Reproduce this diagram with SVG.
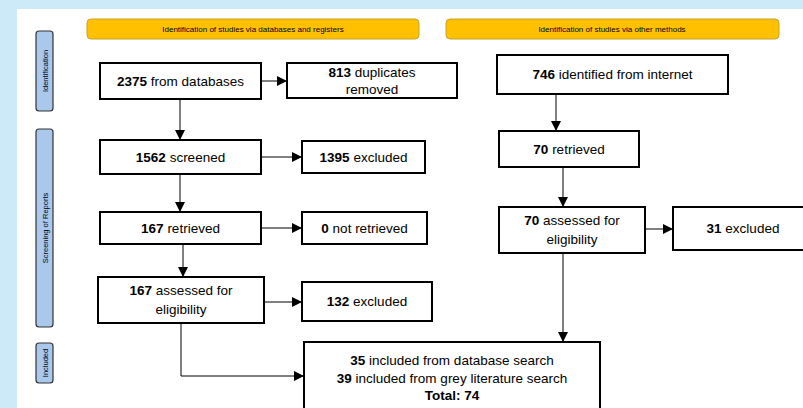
<svg xmlns="http://www.w3.org/2000/svg" width="803" height="408" viewBox="0 0 803 408">
<style>
.bg{fill:#cdeaf8}
.hdr{fill:#ffc000;stroke:#c9a227;stroke-width:1}
.hdrt{font-family:"Liberation Sans",Arial,sans-serif;font-size:8px;fill:#000;text-anchor:middle}
.side{fill:#a9c8ec;stroke:#333;stroke-width:1.2}
.sidet{font-family:"Liberation Sans",Arial,sans-serif;font-size:7.5px;fill:#000;text-anchor:middle}
.box{fill:#fff;stroke:#000;stroke-width:2}
.t{font-family:"Liberation Sans",Arial,sans-serif;font-size:13.5px;fill:#000;text-anchor:middle}
.b{font-weight:bold}
.con{fill:none;stroke:#000;stroke-width:1}
</style>
<defs>
<marker id="ah" viewBox="0 0 10 10" refX="10" refY="5" markerWidth="10" markerHeight="10" markerUnits="userSpaceOnUse" orient="auto">
<path d="M0,0 L10,5 L0,10 z" fill="#000"/>
</marker>
</defs>
<rect class="bg" x="0" y="0" width="803" height="408"/>
<rect x="17" y="9" width="786" height="399" fill="#fff"/>

<g id="hdr-db"><rect class="hdr" x="87" y="19" width="332" height="20" rx="4"/><text class="hdrt" x="253" y="32">Identification of studies via databases and registers</text></g>
<g id="hdr-other"><rect class="hdr" x="446" y="19" width="333" height="20" rx="4"/><text class="hdrt" x="612" y="32">Identification of studies via other methods</text></g>

<g id="side-ident"><rect class="side" x="36" y="31" width="17" height="80" rx="3"/><text class="sidet" transform="translate(47.5,71) rotate(-90)">Identification</text></g>
<g id="side-screen"><rect class="side" x="36" y="129" width="17" height="198" rx="3"/><text class="sidet" transform="translate(47.5,228) rotate(-90)">Screening of Reports</text></g>
<g id="side-incl"><rect class="side" x="36" y="343" width="17" height="40" rx="3"/><text class="sidet" transform="translate(47.5,363) rotate(-90)">Included</text></g>

<g id="n-db"><rect class="box" x="100" y="63" width="161" height="36"/><text class="t" x="180.5" y="86"><tspan class="b">2375</tspan> from databases</text></g>
<g id="n-dup"><rect class="box" x="287" y="63" width="170" height="35"/><text class="t" x="372" y="77"><tspan class="b">813</tspan> duplicates</text><text class="t" x="372" y="94">removed</text></g>
<g id="n-screened"><rect class="box" x="100" y="140" width="161" height="34"/><text class="t" x="180.5" y="162"><tspan class="b">1562</tspan> screened</text></g>
<g id="n-excl1"><rect class="box" x="302" y="141" width="123" height="32"/><text class="t" x="363.5" y="162"><tspan class="b">1395</tspan> excluded</text></g>
<g id="n-retr"><rect class="box" x="100" y="212" width="161" height="32"/><text class="t" x="180.5" y="233"><tspan class="b">167</tspan> retrieved</text></g>
<g id="n-notretr"><rect class="box" x="302" y="212" width="125" height="32"/><text class="t" x="364.5" y="233"><tspan class="b">0</tspan> not retrieved</text></g>
<g id="n-assess"><rect class="box" x="98" y="277" width="166" height="46"/><text class="t" x="181" y="295"><tspan class="b">167</tspan> assessed for</text><text class="t" x="181" y="314">eligibility</text></g>
<g id="n-excl2"><rect class="box" x="302" y="282" width="130" height="39"/><text class="t" x="367" y="306"><tspan class="b">132</tspan> excluded</text></g>

<g id="n-internet"><rect class="box" x="497" y="55" width="231" height="39"/><text class="t" x="612.5" y="79"><tspan class="b">746</tspan> identified from internet</text></g>
<g id="n-retr2"><rect class="box" x="499" y="131" width="140" height="36"/><text class="t" x="569" y="154"><tspan class="b">70</tspan> retrieved</text></g>
<g id="n-assess2"><rect class="box" x="499" y="207" width="146" height="46"/><text class="t" x="572" y="225"><tspan class="b">70</tspan> assessed for</text><text class="t" x="572" y="244">eligibility</text></g>
<g id="n-excl3"><rect class="box" x="673" y="207" width="140" height="43"/><text class="t" x="743" y="233"><tspan class="b">31</tspan> excluded</text></g>

<g id="n-included"><rect class="box" x="304" y="342" width="296" height="76"/><text class="t" x="452" y="365"><tspan class="b">35</tspan> included from database search</text><text class="t" x="452" y="383"><tspan class="b">39</tspan> included from grey literature search</text><text class="t b" x="452" y="400">Total: 74</text></g>

<g id="connectors">
<line class="con" x1="261" y1="81" x2="287" y2="81" marker-end="url(#ah)"/>
<line class="con" x1="180" y1="99" x2="180" y2="140" marker-end="url(#ah)"/>
<line class="con" x1="261" y1="157" x2="302" y2="157" marker-end="url(#ah)"/>
<line class="con" x1="180" y1="174" x2="180" y2="212" marker-end="url(#ah)"/>
<line class="con" x1="261" y1="228" x2="302" y2="228" marker-end="url(#ah)"/>
<line class="con" x1="183" y1="244" x2="183" y2="277" marker-end="url(#ah)"/>
<line class="con" x1="264" y1="302" x2="302" y2="302" marker-end="url(#ah)"/>
<polyline class="con" points="181,323 181,376 304,376" marker-end="url(#ah)"/>
<line class="con" x1="556" y1="94" x2="556" y2="131" marker-end="url(#ah)"/>
<line class="con" x1="563" y1="167" x2="563" y2="207" marker-end="url(#ah)"/>
<line class="con" x1="645" y1="229" x2="673" y2="229" marker-end="url(#ah)"/>
<line class="con" x1="563" y1="253" x2="563" y2="342" marker-end="url(#ah)"/>
</g>
</svg>
